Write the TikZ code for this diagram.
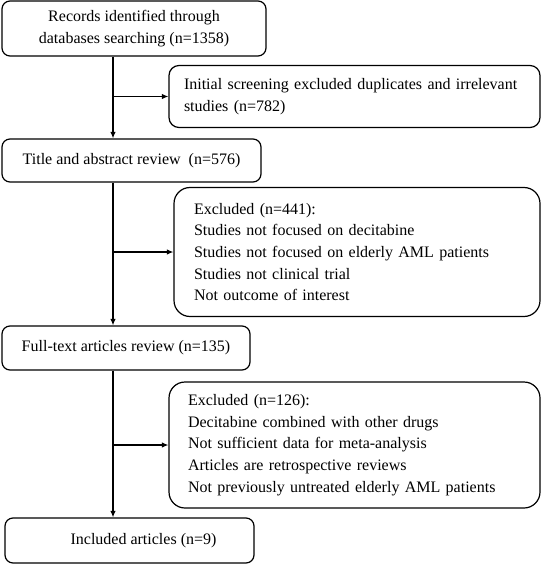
\documentclass[tikz,border=0pt]{standalone}
\usepackage{fontspec}
\setmainfont{Liberation Serif}
\usetikzlibrary{arrows.meta,calc}
\begin{document}
\begin{tikzpicture}[x=1pt,y=-1pt,
  box/.style={draw=black,line width=1.2pt,inner sep=0pt,font=\fontsize{16}{21.7}\selectfont},
  sbox/.style={box,rounded corners=8pt,align=center},
  lbox/.style={box,rounded corners=16pt,align=left},
  arr/.style={line width=1.2pt,-{Latex[length=6.5pt,width=5.5pt]}}]
\useasboundingbox (0,0) rectangle (550,569);
\coordinate (spine) at (113,0);
\node[sbox,minimum width=264pt,minimum height=55pt] (b1) at (134,28.5)
  {Records identified through\\databases searching (n=1358)};
\node[lbox,rounded corners=10pt,text width=341pt,inner xsep=15pt,minimum height=62pt] (b2) at (354.5,96.5)
  {Initial screening excluded duplicates and irrelevant\\studies (n=782)};
\node[sbox,minimum width=259pt,minimum height=43pt] (b3) at (131.5,160.5)
  {Title and abstract review\ \ (n=576)};
\node[lbox,text width=326pt,inner xsep=20pt,minimum height=129pt] (b4) at (357,252)
  {Excluded (n=441):\\Studies not focused on decitabine\\Studies not focused on elderly AML patients\\Studies not clinical trial\\Not outcome of interest};
\node[sbox,minimum width=248pt,minimum height=44pt] (b5) at (126,348)
  {Full-text articles review (n=135)};
\node[lbox,text width=333pt,inner xsep=19pt,minimum height=126pt] (b6) at (354.5,445)
  {Excluded (n=126):\\Decitabine combined with other drugs\\Not sufficient data for meta-analysis\\Articles are retrospective reviews\\Not previously untreated elderly AML patients};
\node[box,rounded corners=8pt,minimum width=249pt,minimum height=45pt] (b7) at (129.5,540.5)
  {\hspace*{28pt}Included articles (n=9)};
\draw[arr] (b1.south -| spine) -- (b3.north -| spine);
\draw[arr] (b2.west -| spine) -- (b2.west);
\draw[arr] (b3.south -| spine) -- (b5.north -| spine);
\draw[arr] (b4.west -| spine) -- (b4.west);
\draw[arr] (b5.south -| spine) -- (b7.north -| spine);
\draw[arr] (b6.west -| spine) -- (b6.west);
\end{tikzpicture}
\end{document}
